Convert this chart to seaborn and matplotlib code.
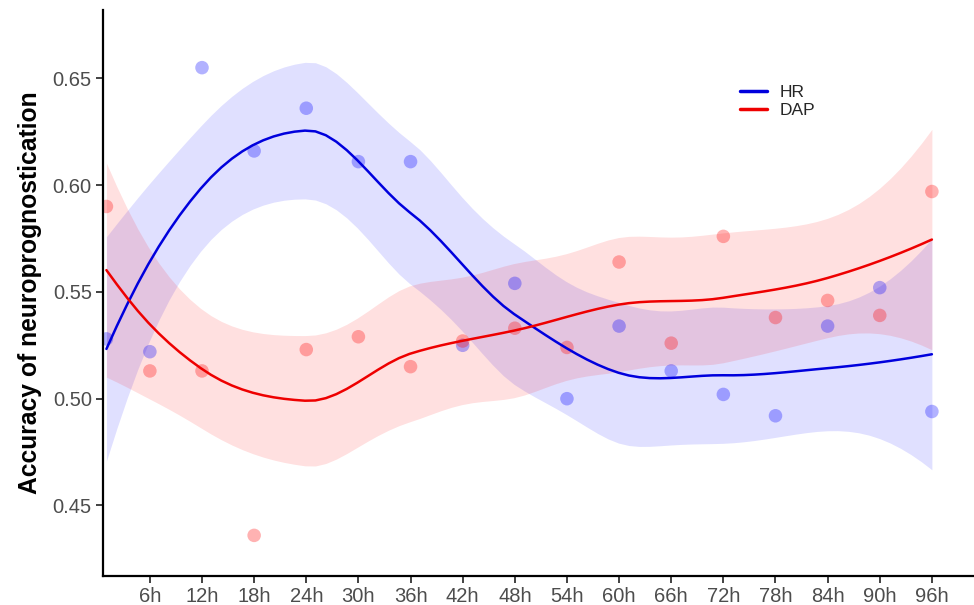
import math

import matplotlib
matplotlib.use("Agg")
import matplotlib.pyplot as plt
import numpy as np
import pandas as pd
import seaborn as sns

# hours after arrest (first sample ~1h)
hours = [1, 6, 12, 18, 24, 30, 36, 42, 48, 54, 60, 66, 72, 78, 84, 90, 96]
hr_acc = [0.528, 0.522, 0.655, 0.616, 0.636, 0.611, 0.611, 0.525, 0.554, 0.500,
          0.534, 0.513, 0.502, 0.492, 0.534, 0.552, 0.494]
dap_acc = [0.590, 0.513, 0.513, 0.436, 0.523, 0.529, 0.515, 0.527, 0.533, 0.524,
           0.564, 0.526, 0.576, 0.538, 0.546, 0.539, 0.597]
series_names = ["HR", "DAP"]
x_ticks = list(range(6, 97, 6))
x_tick_labels = [f"{h}h" for h in x_ticks]
y_ticks = [0.45, 0.50, 0.55, 0.60, 0.65]

COLORS = {"HR": "#0000DD", "DAP": "#EE0000"}
FILLS = {"HR": "blue", "DAP": "red"}

SPAN = 0.75
CELL = 0.2


def _t_quantile(p, df):
    try:
        from scipy import stats
        return float(stats.t.ppf(p, df))
    except Exception:
        pass
    c = math.exp(math.lgamma((df + 1) / 2) - math.lgamma(df / 2)) / math.sqrt(df * math.pi)
    grid = np.linspace(0, 20, 200001)
    pdf = c * (1 + grid ** 2 / df) ** (-(df + 1) / 2)
    cdf = 0.5 + np.concatenate([[0], np.cumsum((pdf[1:] + pdf[:-1]) / 2 * np.diff(grid))])
    return float(np.interp(p, cdf, grid))


def _local_rows(x, x0):
    """Value and slope operator rows of a local quadratic tricube fit at x0."""
    n = len(x)
    q = int(np.floor(n * SPAN))
    d = np.abs(x - x0)
    h = np.sort(d)[q - 1]
    u = np.clip(d / h, 0, 1)
    w = (1 - u ** 3) ** 3
    X = np.column_stack([np.ones(n), x - x0, (x - x0) ** 2])
    XtW = X.T * w
    B = np.linalg.solve(XtW @ X, XtW)
    return B[0], B[1]


def _kd_vertices(x):
    # 1-d version of the kd tree used by R's loess (surface = "interpolate")
    xs = np.sort(x)
    n = len(xs)
    fc = int(np.floor(n * SPAN * CELL))
    mu = 0.005 * (xs[-1] - xs[0])
    verts = {xs[0] - mu, xs[-1] + mu}

    def split(l, u, lo, hi):
        if u - l + 1 <= fc:
            return
        m = (l + u) // 2
        v = xs[m - 1]
        if v == lo or v == hi:
            return
        verts.add(v)
        split(l, m, lo, v)
        split(m + 1, u, v, hi)

    split(1, n, xs[0] - mu, xs[-1] + mu)
    return np.array(sorted(verts))


def _operator(x, xg):
    verts = _kd_vertices(x)
    vals, slopes = zip(*[_local_rows(x, v) for v in verts])
    vals, slopes = np.array(vals), np.array(slopes)
    rows = []
    for x0 in xg:
        i = min(max(np.searchsorted(verts, x0) - 1, 0), len(verts) - 2)
        h = verts[i + 1] - verts[i]
        t = (x0 - verts[i]) / h
        h00 = 2 * t ** 3 - 3 * t ** 2 + 1
        h10 = t ** 3 - 2 * t ** 2 + t
        h01 = -2 * t ** 3 + 3 * t ** 2
        h11 = t ** 3 - t ** 2
        rows.append(h00 * vals[i] + h10 * h * slopes[i] + h01 * vals[i + 1] + h11 * h * slopes[i + 1])
    return np.array(rows)


def loess_band(x, y, xg):
    x = np.asarray(x, float)
    y = np.asarray(y, float)
    L = _operator(x, x)
    R = np.eye(len(x)) - L
    M = R.T @ R
    delta1 = np.trace(M)
    delta2 = np.trace(M @ M)
    s = math.sqrt(np.sum((R @ y) ** 2) / delta1)
    tq = _t_quantile(0.975, delta1 ** 2 / delta2)
    Lg = _operator(x, xg)
    fit = Lg @ y
    se = s * np.sqrt(np.sum(Lg ** 2, axis=1))
    return fit, fit - tq * se, fit + tq * se


def main() -> None:
    sns.set_theme(style="white")
    plt.rcParams["font.family"] = ["Liberation Sans", "DejaVu Sans"]

    points = pd.concat([
        pd.DataFrame({"hour": hours, "accuracy": hr_acc, "signal": "HR"}),
        pd.DataFrame({"hour": hours, "accuracy": dap_acc, "signal": "DAP"}),
    ], ignore_index=True)

    grid = np.linspace(min(hours), max(hours), 80)
    curves = []
    for name, vals in zip(series_names, [hr_acc, dap_acc]):
        fit, lo, hi = loess_band(hours, vals, grid)
        curves.append(pd.DataFrame({"hour": grid, "fit": fit, "lo": lo, "hi": hi, "signal": name}))
    curves = pd.concat(curves, ignore_index=True)

    fig = plt.figure(figsize=(9.74, 6.05), dpi=100)
    ax = fig.add_axes([0.1057, 0.048, 0.893, 0.9355])

    for name in series_names:
        c = curves[curves["signal"] == name]
        ax.fill_between(c["hour"], c["lo"], c["hi"], color=FILLS[name], alpha=0.12, lw=0)

    sns.scatterplot(data=points, x="hour", y="accuracy", hue="signal", palette=FILLS,
                    alpha=0.3, s=95, edgecolor="none", legend=False, ax=ax)
    sns.lineplot(data=curves, x="hour", y="fit", hue="signal", palette=COLORS,
                 hue_order=series_names, lw=1.8, ax=ax)

    ax.set_xlim(0.6, 100.7)
    ax.set_ylim(0.417, 0.682)
    ax.set_xticks(x_ticks)
    ax.set_xticklabels(x_tick_labels)
    ax.set_yticks(y_ticks)
    ax.set_yticklabels([f"{v:.2f}" for v in y_ticks])
    ax.set_xlabel("")
    ax.set_ylabel("Accuracy of neuroprognostication", fontsize=17.7, fontweight="bold",
                  color="black", labelpad=8)
    ax.tick_params(axis="both", labelsize=14.5, labelcolor="#4D4D4D", length=5, width=1.3,
                   color="#333333", bottom=True, left=True, pad=3)
    for side in ["top", "right"]:
        ax.spines[side].set_visible(False)
    for side in ["left", "bottom"]:
        ax.spines[side].set_color("black")
        ax.spines[side].set_linewidth(1.6)

    handles, labels = ax.get_legend_handles_labels()
    for h in handles:
        h.set_linewidth(2.5)
    ax.legend(handles, labels, loc="upper left", bbox_to_anchor=(0.732, 0.868),
              frameon=False, fontsize=12.5, handlelength=1.55, handletextpad=0.75,
              labelspacing=0.2, borderpad=0, borderaxespad=0)

    fig.savefig("out.png", dpi=100)
    plt.close(fig)


if __name__ == "__main__":
    main()
